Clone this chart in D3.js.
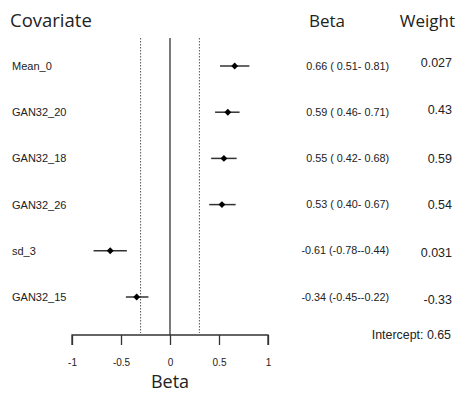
<!DOCTYPE html>
<html><head><meta charset="utf-8">
<script src="https://cdn.jsdelivr.net/npm/d3@7"></script>
<style>body{margin:0;background:#fff}svg{display:block}</style>
</head><body><svg id="c" width="464" height="394"></svg>
<script>
const covariates = ["Mean_0","GAN32_20","GAN32_18","GAN32_26","sd_3","GAN32_15"];
const beta = [0.66, 0.59, 0.55, 0.53, -0.61, -0.34];
const lower = [0.51, 0.46, 0.42, 0.40, -0.78, -0.45];
const upper = [0.81, 0.71, 0.68, 0.67, -0.44, -0.22];
const betaLabels = ["0.66 ( 0.51- 0.81)","0.59 ( 0.46- 0.71)","0.55 ( 0.42- 0.68)","0.53 ( 0.40- 0.67)","-0.61 (-0.78--0.44)","-0.34 (-0.45--0.22)"];
const weights = ["0.027","0.43","0.59","0.54","0.031","-0.33"];
const xTicks = [-1,-0.5,0,0.5,1];
const refLines = [-0.3, 0.3];
const intercept = "Intercept: 0.65";

const svg = d3.select("#c");
const x = d3.scaleLinear().domain([-1,1]).range([72,268]);
const y = d3.scalePoint().domain(covariates).range([66,297]);
const font = "'Liberation Sans', Arial, sans-serif";
const hfont = "'Open Sans', 'Liberation Sans', sans-serif";

// headers
svg.append("text").attr("x",10).attr("y",27).attr("font-family",hfont).attr("font-size",18.5).attr("fill","#222").text("Covariate");
svg.append("text").attr("x",309).attr("y",27).attr("font-family",hfont).attr("font-size",17).attr("fill","#222").text("Beta");
svg.append("text").attr("x",455).attr("y",27).attr("text-anchor","end").attr("font-family",hfont).attr("font-size",17).attr("fill","#222").text("Weight");

// reference lines
svg.selectAll(".ref").data(refLines).enter().append("line")
  .attr("x1",d=>x(d)).attr("x2",d=>x(d)).attr("y1",38).attr("y2",333)
  .attr("stroke","#555").attr("stroke-width",1).attr("stroke-dasharray","1.5,1.5");
svg.append("line").attr("x1",x(0)).attr("x2",x(0)).attr("y1",38).attr("y2",335)
  .attr("stroke","#333").attr("stroke-width",1.3);

// axis
const axis = d3.axisBottom(x).tickValues(xTicks).tickSize(10).tickPadding(14).tickFormat(d=>String(d));
const g = svg.append("g").attr("transform","translate(0,335)").call(axis);
g.select(".domain").attr("d",`M${x(-1)},10V0H${x(1)}V10`).attr("stroke","#333").attr("stroke-width",1.3);
g.selectAll(".tick line").attr("stroke","#333").attr("stroke-width",1.3);
g.selectAll(".tick text").attr("font-family",font).attr("font-size",10).attr("fill","#222");
svg.append("text").attr("x",x(0)).attr("y",388).attr("text-anchor","middle").attr("font-family",hfont).attr("font-size",18).attr("fill","#222").text("Beta");

// rows
const rows = covariates.map((c,i)=>({c,b:beta[i],lo:lower[i],hi:upper[i],bl:betaLabels[i],w:weights[i]}));
const r = svg.selectAll(".row").data(rows).enter().append("g");
r.append("text").attr("x",12).attr("y",d=>y(d.c)+4).attr("font-family",font).attr("font-size",11).attr("fill","#222").text(d=>d.c);
r.append("line").attr("x1",d=>x(d.lo)).attr("x2",d=>x(d.hi)).attr("y1",d=>y(d.c)).attr("y2",d=>y(d.c))
  .attr("stroke","#333").attr("stroke-width",1.5);
r.append("path").attr("d",d3.symbol(d3.symbolDiamond2,30))
  .attr("transform",d=>`translate(${x(d.b)},${y(d.c)})`).attr("fill","#000");
r.append("text").attr("x",389).attr("y",d=>y(d.c)+3.5).attr("text-anchor","end").attr("font-family",font).attr("font-size",10.8).attr("fill","#222").text(d=>d.bl);
const wOff = [1,2,4.5,4.5,6,7];
r.append("text").attr("x",452).attr("y",(d,i)=>y(d.c)+wOff[i]).attr("text-anchor","end").attr("font-family",font).attr("font-size",12.5).attr("fill","#222").text(d=>d.w);

svg.append("text").attr("x",451).attr("y",339).attr("text-anchor","end").attr("font-family",font).attr("font-size",12.4).attr("fill","#222").text(intercept);
</script></body></html>
